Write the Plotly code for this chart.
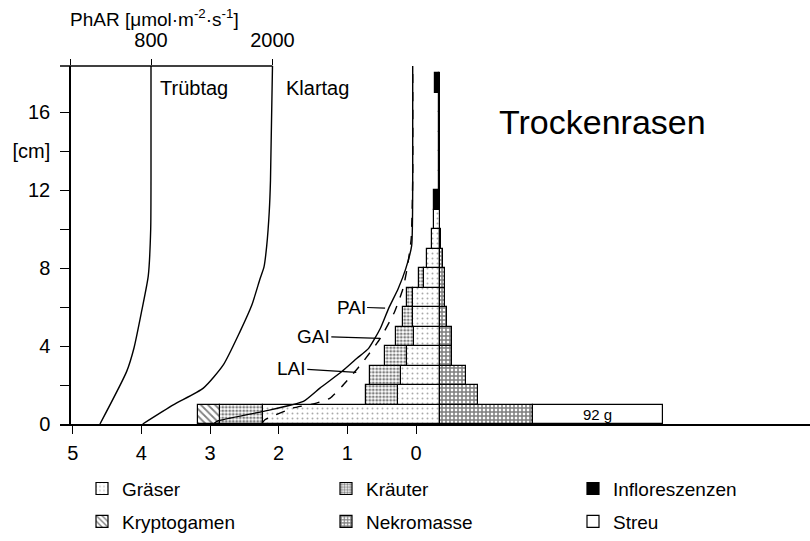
import plotly.graph_objects as go

# ---------------- data ----------------
# vertical layers (bottom of each 1-cm layer)
layer_bottom = [0, 1, 2, 3, 4, 5, 6, 7, 8, 9, 10, 11, 12, 13, 14, 15, 16, 17]
# phytomass per layer (g)
graeser        = [125, 29.5, 27.8, 23.6, 18.4, 18.9, 18.9, 11.3, 9.0, 5.4, 4.0, 0.9, 0.9, 0.9, 0.9, 0.9, 0.9, 0.9]
kraeuter       = [30.6, 22.9, 21.7, 15.4, 12.7, 7.1, 4.7, 3.3, 0, 0, 0, 0, 0, 0, 0, 0, 0, 0]
kryptogamen    = [16, 0, 0, 0, 0, 0, 0, 0, 0, 0, 0, 0, 0, 0, 0, 0, 0, 0]
infloreszenzen = [0, 0, 0, 0, 0, 0, 0, 0, 0, 0, 0, 3.0, 0, 0, 0, 0, 0, 2.4]
nekromasse     = [65.6, 27.1, 18.4, 8.3, 8.3, 5.2, 3.5, 3.5, 1.9, 1.0, 0, 0, 0, 0, 0, 0, 0, 0]
streu          = [92, 0, 0, 0, 0, 0, 0, 0, 0, 0, 0, 0, 0, 0, 0, 0, 0, 0]

# light profiles (PhAR, umol m-2 s-1)
klartag_h = [0, 0.98, 1.84, 3.03, 4.74, 6.09, 7.45, 8.06, 9.15, 10.9, 12.5, 18.4]
klartag   = [718, 1020, 1317, 1514, 1679, 1795, 1877, 1916, 1943, 1968, 1980, 2000]
truebtag_h = [0, 2.7, 3.9, 5.8, 7.6, 10.0, 12.5, 18.4]
truebtag   = [296, 560, 632, 708, 773, 797, 800, 800]

# cumulative area indices
pai_h = [0, 0.14, 0.65, 1.16, 1.84, 2.69, 3.37, 3.88, 4.9, 5.92, 6.94, 7.96, 9.15, 12.5, 18.4]
pai   = [2.95, 2.90, 2.22, 1.64, 1.40, 1.08, 0.86, 0.69, 0.52, 0.40, 0.26, 0.15, 0.063, 0.048, 0.048]
gai_h = [0, 0.22, 0.82, 1.07, 1.33, 1.92, 2.6, 3.2, 4.39, 5.77, 6.94, 7.96, 9.5, 12.5, 18.4]
gai   = [2.25, 2.2, 1.79, 1.45, 1.25, 1.08, 0.91, 0.77, 0.52, 0.31, 0.19, 0.13, 0.07, 0.048, 0.048]

# label anchor points on curves (index value, height cm)
label_names = ["PAI", "GAI", "LAI"]
label_x = [0.45, 0.52, 0.87]
label_y = [5.95, 4.39, 2.65]
label_ax = [-34, -67, -65]
label_ay = [-1, -2, -4]

lai_ticks = [0, 1, 2, 3, 4, 5]
phar_ticks = [800, 2000]
phar_minor = [0]
height_ticks = [0, 4, 8, 12, 14, 16]
height_ticktext = ["0", "4", "8", "12", "[cm]", "16"]
height_minor = [2, 6, 10]

FONT = "Liberation Sans"

L, R, T, B = 60, 0, 66, 115
W, H = 810, 541
pw = W - L - R
ph = H - T - B

# legend placement (text-left pixel, row-centre pixel)
legend_slots = {
    "Gräser": ("legend", 122, 491),
    "Kräuter": ("legend2", 366, 491),
    "Infloreszenzen": ("legend3", 613, 491),
    "Kryptogamen": ("legend4", 122, 524),
    "Nekromasse": ("legend5", 366, 524),
    "Streu": ("legend6", 613, 524),
}

# ---------------- figure ----------------
fig = go.Figure()

def add_bar(name, vals, side, marker, **kw):
    ys = [b + 0.5 for b, v in zip(layer_bottom, vals) if v > 0]
    xs = [side * v for v in vals if v > 0]
    fig.add_trace(go.Bar(
        x=xs, y=ys, orientation="h", width=1, name=name,
        xaxis="x", yaxis="y", marker=marker,
        legend=legend_slots[name][0], **kw))

line = dict(color="black", width=1.2)
add_bar("Gräser", graeser, -1,
        dict(color="white", line=line,
             pattern=dict(shape=".", size=5, solidity=0.12, fgcolor="#555", bgcolor="white")))
add_bar("Infloreszenzen", infloreszenzen, -1, dict(color="black", line=line))
add_bar("Kräuter", kraeuter, -1,
        dict(color="white", line=line,
             pattern=dict(shape=".", size=3.5, solidity=0.5, fgcolor="black", bgcolor="white")))
add_bar("Kryptogamen", kryptogamen, -1,
        dict(color="white", line=line,
             pattern=dict(shape="\\", size=5, solidity=0.35, fgcolor="black", bgcolor="white")))
add_bar("Nekromasse", nekromasse, 1,
        dict(color="white", line=line,
             pattern=dict(shape="+", size=4, solidity=0.62, fgcolor="black", bgcolor="white")))
add_bar("Streu", streu, 1, dict(color="white", line=line))

# light curves (top axis)
fig.add_trace(go.Scatter(x=truebtag, y=truebtag_h, mode="lines", xaxis="x2", yaxis="y",
                         line=dict(color="black", width=1.4, shape="spline", smoothing=0.6),
                         showlegend=False, hoverinfo="skip"))
fig.add_trace(go.Scatter(x=klartag, y=klartag_h, mode="lines", xaxis="x2", yaxis="y",
                         line=dict(color="black", width=1.4, shape="spline", smoothing=0.6),
                         showlegend=False, hoverinfo="skip"))
# area index curves (bottom axis)
fig.add_trace(go.Scatter(x=pai, y=pai_h, mode="lines", xaxis="x3", yaxis="y",
                         line=dict(color="black", width=1.4, shape="spline", smoothing=0.5),
                         showlegend=False, hoverinfo="skip"))
fig.add_trace(go.Scatter(x=gai, y=gai_h, mode="lines", xaxis="x3", yaxis="y",
                         line=dict(color="black", width=1.4, dash="dash", shape="spline", smoothing=0.5),
                         showlegend=False, hoverinfo="skip"))

# axis ranges derived from pixel calibration of the reference
bar_range = [-(440 - L) / 1.413, (W - R - 440) / 1.413]
phar_range = [-(70 - L) / 0.10125, (W - R - 70) / 0.10125]
lai_range = [(416 - L) / 68.66, -(W - R - 416) / 68.66]
y_range = [0, ph / 19.6]

axis_font = dict(family=FONT, size=20, color="black")

layout_legends = {}
for name, (lg, tx, ty) in legend_slots.items():
    layout_legends[lg] = dict(
        x=(tx - 40 - L) / pw, y=(426 - ty) / ph, xanchor="left", yanchor="middle",
        font=dict(family=FONT, size=19, color="black"), bgcolor="rgba(0,0,0,0)",
        orientation="h")

fig.update_layout(
    width=W, height=H,
    margin=dict(l=L, r=R, t=T, b=B),
    paper_bgcolor="white", plot_bgcolor="white",
    barmode="relative", bargap=0,
    font=dict(family=FONT, color="black"),
    xaxis=dict(range=bar_range, visible=False, showgrid=False, zeroline=False, fixedrange=True),
    xaxis2=dict(range=phar_range, overlaying="x", side="top", anchor="y",
                tickmode="array", tickvals=phar_ticks, ticks="outside", ticklen=6,
                tickwidth=1.4, tickcolor="black", showline=False, showgrid=False, zeroline=False,
                tickfont=axis_font, ticklabelstandoff=4,
                minor=dict(tickmode="array", tickvals=phar_minor, ticks="outside", ticklen=6,
                           tickwidth=1.4, tickcolor="black", showgrid=False)),
    xaxis3=dict(range=lai_range, overlaying="x", side="bottom", anchor="y",
                tickvals=lai_ticks, ticks="outside", ticklen=8, tickwidth=1.4, tickcolor="black",
                showline=True, linecolor="black", linewidth=1.5, showgrid=False, zeroline=False,
                tickfont=axis_font, ticklabelstandoff=2),
    yaxis=dict(range=y_range, anchor="free", position=(70 - L) / pw,
               tickmode="array", tickvals=height_ticks, ticktext=height_ticktext, ticks="outside",
               ticklen=9, tickwidth=1.4, tickcolor="black", showline=True, linecolor="black",
               linewidth=1.5, showgrid=False, zeroline=False, tickfont=axis_font, ticklabelstandoff=6,
               minor=dict(tickmode="array", tickvals=height_minor, ticks="outside", ticklen=9,
                          tickwidth=1.4, tickcolor="black", showgrid=False)),
    shapes=[dict(type="line", xref="x2", yref="paper", x0=phar_range[0], x1=max(phar_ticks),
                 y0=1, y1=1, line=dict(color="black", width=1.5))],
    **layout_legends,
)

annotations = [
    dict(xref="paper", yref="paper", x=(68 - L) / pw, y=1 + (T - 18) / ph, xanchor="left", yanchor="middle",
         text="PhAR [μmol·m<sup>-2</sup>·s<sup>-1</sup>]", showarrow=False,
         font=dict(family=FONT, size=19, color="black")),
    dict(xref="x2", yref="y", x=869, y=17.25, xanchor="left", yanchor="middle", text="Trübtag",
         showarrow=False, font=dict(family=FONT, size=20, color="black")),
    dict(xref="x2", yref="y", x=2114, y=17.25, xanchor="left", yanchor="middle", text="Klartag",
         showarrow=False, font=dict(family=FONT, size=20, color="black")),
    dict(xref="paper", yref="y", x=(497 - L) / pw, y=15.5, xanchor="left", yanchor="middle",
         text="Trockenrasen", showarrow=False, font=dict(family=FONT, size=34, color="black")),
    # Streu value label, centred in the Streu bar of the bottom layer
    dict(xref="x", yref="y", x=nekromasse[0] + streu[0] / 2, y=layer_bottom[0] + 0.5,
         text=f"{streu[0]} g", showarrow=False, xanchor="center", yanchor="middle",
         font=dict(family=FONT, size=15, color="black")),
]
for n, lx, ly, ax, ay in zip(label_names, label_x, label_y, label_ax, label_ay):
    annotations.append(dict(xref="x3", yref="y", x=lx, y=ly, text=n, showarrow=True,
                            arrowhead=0, arrowwidth=1.2, arrowcolor="black", ax=ax, ay=ay,
                            standoff=0, font=dict(family=FONT, size=19, color="black")))
fig.update_layout(annotations=annotations)

fig.write_html("out.html")
